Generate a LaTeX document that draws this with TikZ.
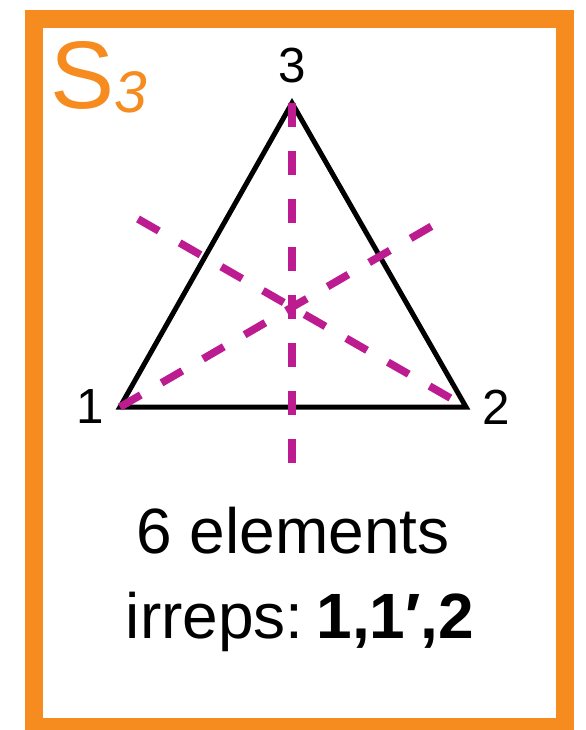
\documentclass[tikz,border=0pt]{standalone}
\usepackage{fontspec}
\setmainfont{Liberation Sans}
\usepackage{xcolor}
\usepackage{tikz}
\usetikzlibrary{positioning,calc}
\definecolor{frameorange}{RGB}{246,139,31}
\definecolor{mirrorpink}{RGB}{189,28,144}

\begin{document}
\begin{tikzpicture}[x=0.75pt, y=-0.75pt,
  edge/.style={line width=3.75pt, line join=miter},
  mirror/.style={line width=5.75pt, draw=mirrorpink, dash pattern=on 18pt off 18pt},
  vlabel/.style={font=\fontsize{37}{42}\selectfont, inner sep=0pt},
  caption/.style={font=\fontsize{48}{56}\selectfont, inner sep=0pt, anchor=base},
]
\useasboundingbox (0,0) rectangle (585,730);
\begin{scope}
  \clip (0,0) rectangle (585,730);
  \draw[frameorange, line width=13.5pt] (34,19) rectangle (565,727);
\end{scope}
\node[anchor=base west, inner sep=0pt, text=frameorange,
  font=\fontsize{72}{80}\selectfont] (title) at (50,109)
  {S\raisebox{-3pt}{\fontsize{44}{50}\selectfont\itshape 3}};
% triangle corners and mirror ends
\coordinate (v1) at (120,407);
\coordinate (v2) at (466,407);
\coordinate (v3) at (292,103);
\coordinate (m1) at (432,226);
\coordinate (m2) at (138,219);
\coordinate (m3) at (292,463);
\draw[edge] (v1) -- (v2) -- (v3) -- cycle;
\draw[mirror] (v3) -- (m3);
\draw[mirror] (v1) -- (m1);
\draw[mirror] (m2) -- (v2);
\node[vlabel, left=12pt of v1] (l1) {1};
\node[vlabel, right=12pt of v2] (l2) {2};
\node[vlabel, above=15pt of v3] (l3) {3};
\node[caption] (order) at (293,553) {6 elements};
\node[caption] (irreps) at (300,638) {irreps:\hspace{0.2em}\textbf{1,1′,2}};
\end{tikzpicture}
\end{document}
